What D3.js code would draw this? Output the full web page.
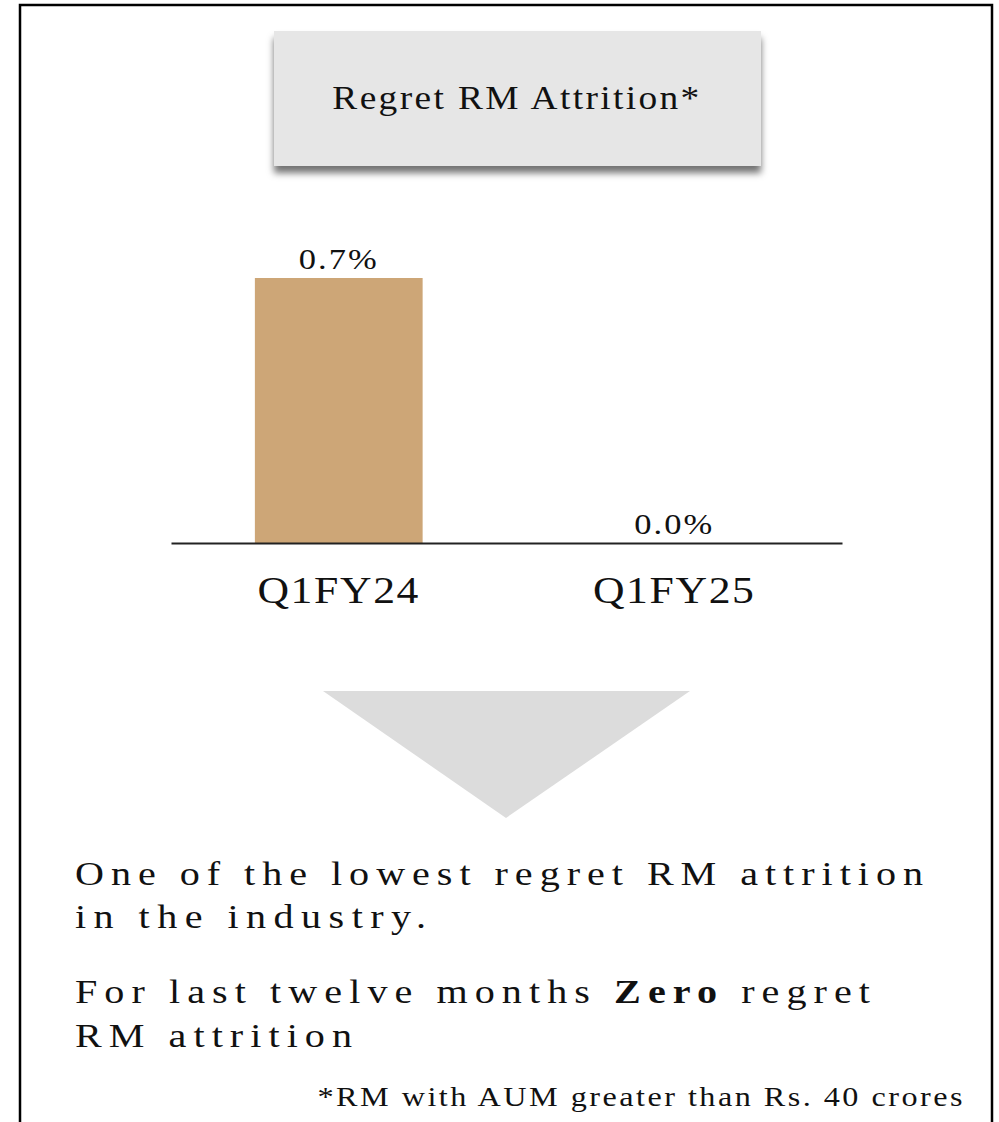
<!DOCTYPE html>
<html lang="en">
<head>
    <meta charset="UTF-8">
    <title>Regret RM Attrition</title>
    <script src="https://d3js.org/d3.v7.min.js"></script>
    <style>
        body {
            margin: 0;
            background: #ffffff;
            font-family: 'Liberation Serif', 'Times New Roman', serif;
        }
        svg text {
            fill: #111;
        }
    </style>
</head>
<body>
    <div id="chart-container"></div>

    <script>
        const categories = ["Q1FY24", "Q1FY25"];
        const values = [0.7, 0.0];
        const valueLabels = ["0.7%", "0.0%"];

        const title = "Regret RM Attrition*";
        const notes = [
            ["One of the lowest regret RM attrition"],
            ["in the industry."],
            ["For last twelve months ", "Zero", " regret"],
            ["RM attrition"]
        ];
        const footnote = "*RM with AUM greater than Rs. 40 crores";

        const width = 999;
        const height = 1122;

        const svg = d3.select("#chart-container")
            .append("svg")
            .attr("width", width)
            .attr("height", height);

        // widen glyphs a bit (the original face is broader) and spread letters to the wanted width
        function fit(sel, target, s) {
            const node = sel.node();
            const n = sel.text().length;
            const w = node.getComputedTextLength();
            sel.attr("letter-spacing", (target / s - w) / (n - 1));
        }
        function placeText(parent, x, y, s) {
            return parent.append("text")
                .attr("transform", `translate(${x},${y}) scale(${s},1)`);
        }

        const defs = svg.append("defs");
        const shadow = defs.append("filter")
            .attr("id", "shadow")
            .attr("x", "-10%").attr("y", "-10%")
            .attr("width", "120%").attr("height", "130%");
        shadow.append("feDropShadow")
            .attr("dx", 0).attr("dy", 7)
            .attr("stdDeviation", 3.5)
            .attr("flood-color", "#000")
            .attr("flood-opacity", 0.55);

        // outer frame
        svg.append("rect")
            .attr("x", 20).attr("y", 5)
            .attr("width", 972).attr("height", 1140)
            .attr("fill", "none")
            .attr("stroke", "#000")
            .attr("stroke-width", 2.5);

        // title box
        svg.append("rect")
            .attr("x", 274).attr("y", 31)
            .attr("width", 487).attr("height", 135)
            .attr("fill", "#e6e6e6")
            .attr("filter", "url(#shadow)");

        const titleText = placeText(svg, 517, 109, 1.1)
            .attr("text-anchor", "middle")
            .style("font-size", "34px")
            .text(title);
        fit(titleText, 367, 1.1);

        // bar chart
        const xScale = d3.scaleBand()
            .domain(categories)
            .range([171, 842])
            .paddingInner(0.5)
            .paddingOuter(0.25);

        const yScale = d3.scaleLinear()
            .domain([0, 0.7])
            .range([543, 278]);

        svg.selectAll("rect.bar")
            .data(values)
            .enter()
            .append("rect")
            .attr("class", "bar")
            .attr("x", (d, i) => xScale(categories[i]))
            .attr("y", d => yScale(d))
            .attr("width", xScale.bandwidth())
            .attr("height", d => yScale(0) - yScale(d))
            .attr("fill", "#cda677");

        values.forEach((d, i) => {
            const t = placeText(svg, xScale(categories[i]) + xScale.bandwidth() / 2, yScale(d) - 9, 1.15)
                .attr("text-anchor", "middle")
                .style("font-size", "30px")
                .text(valueLabels[i]);
            fit(t, 78, 1.15);
        });

        const xAxis = d3.axisBottom(xScale).tickSize(0).tickPadding(0);

        const axisG = svg.append("g")
            .attr("transform", `translate(0, ${yScale(0)})`)
            .call(xAxis);

        axisG.select(".domain")
            .attr("stroke", "#222")
            .attr("stroke-width", 2);

        axisG.selectAll(".tick text")
            .attr("y", 60)
            .attr("dy", 0)
            .attr("transform", "scale(1.15,1)")
            .attr("fill", "#111")
            .style("font-family", "'Liberation Serif', serif")
            .style("font-size", "38px")
            .each(function () { fit(d3.select(this), 161, 1.15); });

        // arrow
        svg.append("path")
            .attr("d", d3.line()([[323, 691], [690, 691], [506, 818]]) + "Z")
            .attr("fill", "#dcdcdc");

        // notes
        const noteY = [885, 928, 1003, 1047];
        const noteW = [848, 351, 795, 277];
        notes.forEach((parts, i) => {
            const t = placeText(svg, 75, noteY[i], 1.18)
                .style("font-size", "34px");
            parts.forEach(p => {
                t.append("tspan")
                    .attr("font-weight", p === "Zero" ? "bold" : null)
                    .text(p);
            });
            fit(t, noteW[i], 1.18);
        });

        const foot = placeText(svg, 965, 1106, 1.15)
            .attr("text-anchor", "end")
            .style("font-size", "28px")
            .text(footnote);
        fit(foot, 645, 1.15);
    </script>
</body>
</html>
